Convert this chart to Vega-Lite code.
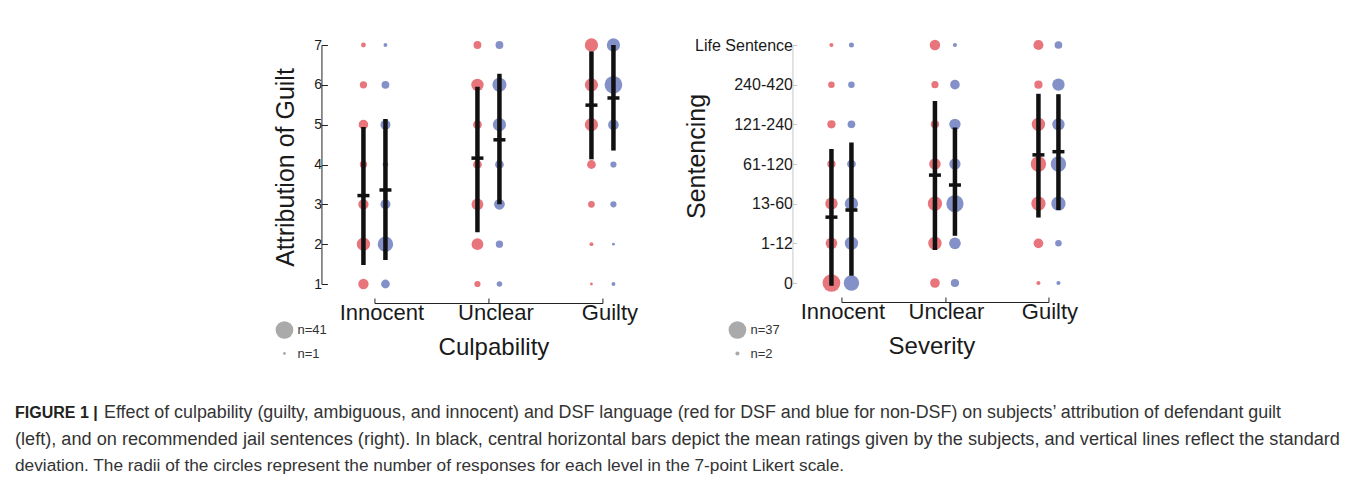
{
  "$schema": "https://vega.github.io/schema/vega-lite/v6.json",
  "background": "white",
  "padding": {"left": 8, "top": 37, "right": 0, "bottom": 0},
  "config": {
    "font": "Liberation Sans",
    "view": {"stroke": null},
    "axis": {"grid": false, "labelColor": "#1a1a1a", "titleColor": "#1a1a1a", "titleFontWeight": "normal"}
  },
  "datasets": {
    "guiltDots": [
      {"culpability": "Innocent", "language": "DSF", "rating": 7, "n": 3},
      {"culpability": "Innocent", "language": "DSF", "rating": 6, "n": 7},
      {"culpability": "Innocent", "language": "DSF", "rating": 5, "n": 12},
      {"culpability": "Innocent", "language": "DSF", "rating": 4, "n": 7},
      {"culpability": "Innocent", "language": "DSF", "rating": 3, "n": 14},
      {"culpability": "Innocent", "language": "DSF", "rating": 2, "n": 23},
      {"culpability": "Innocent", "language": "DSF", "rating": 1, "n": 14},
      {"culpability": "Innocent", "language": "non-DSF", "rating": 7, "n": 2},
      {"culpability": "Innocent", "language": "non-DSF", "rating": 6, "n": 8},
      {"culpability": "Innocent", "language": "non-DSF", "rating": 5, "n": 13},
      {"culpability": "Innocent", "language": "non-DSF", "rating": 4, "n": 4},
      {"culpability": "Innocent", "language": "non-DSF", "rating": 3, "n": 13},
      {"culpability": "Innocent", "language": "non-DSF", "rating": 2, "n": 31},
      {"culpability": "Innocent", "language": "non-DSF", "rating": 1, "n": 10},
      {"culpability": "Unclear", "language": "DSF", "rating": 7, "n": 8},
      {"culpability": "Unclear", "language": "DSF", "rating": 6, "n": 20},
      {"culpability": "Unclear", "language": "DSF", "rating": 5, "n": 10},
      {"culpability": "Unclear", "language": "DSF", "rating": 4, "n": 10},
      {"culpability": "Unclear", "language": "DSF", "rating": 3, "n": 18},
      {"culpability": "Unclear", "language": "DSF", "rating": 2, "n": 18},
      {"culpability": "Unclear", "language": "DSF", "rating": 1, "n": 5},
      {"culpability": "Unclear", "language": "non-DSF", "rating": 7, "n": 8},
      {"culpability": "Unclear", "language": "non-DSF", "rating": 6, "n": 26},
      {"culpability": "Unclear", "language": "non-DSF", "rating": 5, "n": 23},
      {"culpability": "Unclear", "language": "non-DSF", "rating": 4, "n": 10},
      {"culpability": "Unclear", "language": "non-DSF", "rating": 3, "n": 15},
      {"culpability": "Unclear", "language": "non-DSF", "rating": 2, "n": 7},
      {"culpability": "Unclear", "language": "non-DSF", "rating": 1, "n": 4},
      {"culpability": "Guilty", "language": "DSF", "rating": 7, "n": 23},
      {"culpability": "Guilty", "language": "DSF", "rating": 6, "n": 23},
      {"culpability": "Guilty", "language": "DSF", "rating": 5, "n": 23},
      {"culpability": "Guilty", "language": "DSF", "rating": 4, "n": 10},
      {"culpability": "Guilty", "language": "DSF", "rating": 3, "n": 6},
      {"culpability": "Guilty", "language": "DSF", "rating": 2, "n": 2},
      {"culpability": "Guilty", "language": "DSF", "rating": 1, "n": 1},
      {"culpability": "Guilty", "language": "non-DSF", "rating": 7, "n": 23},
      {"culpability": "Guilty", "language": "non-DSF", "rating": 6, "n": 41},
      {"culpability": "Guilty", "language": "non-DSF", "rating": 5, "n": 15},
      {"culpability": "Guilty", "language": "non-DSF", "rating": 4, "n": 5},
      {"culpability": "Guilty", "language": "non-DSF", "rating": 3, "n": 5},
      {"culpability": "Guilty", "language": "non-DSF", "rating": 2, "n": 1},
      {"culpability": "Guilty", "language": "non-DSF", "rating": 1, "n": 2}
    ],
    "guiltStats": [
      {"culpability": "Innocent", "language": "DSF", "mean": 3.22, "lo": 1.48, "hi": 4.94},
      {"culpability": "Innocent", "language": "non-DSF", "mean": 3.36, "lo": 1.6, "hi": 5.14},
      {"culpability": "Unclear", "language": "DSF", "mean": 4.16, "lo": 2.3, "hi": 5.95},
      {"culpability": "Unclear", "language": "non-DSF", "mean": 4.62, "lo": 3.0, "hi": 6.28},
      {"culpability": "Guilty", "language": "DSF", "mean": 5.49, "lo": 4.13, "hi": 6.84},
      {"culpability": "Guilty", "language": "non-DSF", "mean": 5.67, "lo": 4.35, "hi": 7.0}
    ],
    "sentDots": [
      {"severity": "Innocent", "language": "DSF", "sentence": "Life Sentence", "n": 2},
      {"severity": "Innocent", "language": "DSF", "sentence": "240-420", "n": 5},
      {"severity": "Innocent", "language": "DSF", "sentence": "121-240", "n": 8},
      {"severity": "Innocent", "language": "DSF", "sentence": "61-120", "n": 8},
      {"severity": "Innocent", "language": "DSF", "sentence": "13-60", "n": 18},
      {"severity": "Innocent", "language": "DSF", "sentence": "1-12", "n": 16},
      {"severity": "Innocent", "language": "DSF", "sentence": "0", "n": 37},
      {"severity": "Innocent", "language": "non-DSF", "sentence": "Life Sentence", "n": 3},
      {"severity": "Innocent", "language": "non-DSF", "sentence": "240-420", "n": 5},
      {"severity": "Innocent", "language": "non-DSF", "sentence": "121-240", "n": 7},
      {"severity": "Innocent", "language": "non-DSF", "sentence": "61-120", "n": 9},
      {"severity": "Innocent", "language": "non-DSF", "sentence": "13-60", "n": 21},
      {"severity": "Innocent", "language": "non-DSF", "sentence": "1-12", "n": 21},
      {"severity": "Innocent", "language": "non-DSF", "sentence": "0", "n": 28},
      {"severity": "Unclear", "language": "DSF", "sentence": "Life Sentence", "n": 13},
      {"severity": "Unclear", "language": "DSF", "sentence": "240-420", "n": 6},
      {"severity": "Unclear", "language": "DSF", "sentence": "121-240", "n": 8},
      {"severity": "Unclear", "language": "DSF", "sentence": "61-120", "n": 16},
      {"severity": "Unclear", "language": "DSF", "sentence": "13-60", "n": 24},
      {"severity": "Unclear", "language": "DSF", "sentence": "1-12", "n": 21},
      {"severity": "Unclear", "language": "DSF", "sentence": "0", "n": 11},
      {"severity": "Unclear", "language": "non-DSF", "sentence": "Life Sentence", "n": 2},
      {"severity": "Unclear", "language": "non-DSF", "sentence": "240-420", "n": 11},
      {"severity": "Unclear", "language": "non-DSF", "sentence": "121-240", "n": 15},
      {"severity": "Unclear", "language": "non-DSF", "sentence": "61-120", "n": 15},
      {"severity": "Unclear", "language": "non-DSF", "sentence": "13-60", "n": 35},
      {"severity": "Unclear", "language": "non-DSF", "sentence": "1-12", "n": 16},
      {"severity": "Unclear", "language": "non-DSF", "sentence": "0", "n": 8},
      {"severity": "Guilty", "language": "DSF", "sentence": "Life Sentence", "n": 12},
      {"severity": "Guilty", "language": "DSF", "sentence": "240-420", "n": 8},
      {"severity": "Guilty", "language": "DSF", "sentence": "121-240", "n": 21},
      {"severity": "Guilty", "language": "DSF", "sentence": "61-120", "n": 28},
      {"severity": "Guilty", "language": "DSF", "sentence": "13-60", "n": 24},
      {"severity": "Guilty", "language": "DSF", "sentence": "1-12", "n": 11},
      {"severity": "Guilty", "language": "DSF", "sentence": "0", "n": 2},
      {"severity": "Guilty", "language": "non-DSF", "sentence": "Life Sentence", "n": 7},
      {"severity": "Guilty", "language": "non-DSF", "sentence": "240-420", "n": 18},
      {"severity": "Guilty", "language": "non-DSF", "sentence": "121-240", "n": 18},
      {"severity": "Guilty", "language": "non-DSF", "sentence": "61-120", "n": 28},
      {"severity": "Guilty", "language": "non-DSF", "sentence": "13-60", "n": 24},
      {"severity": "Guilty", "language": "non-DSF", "sentence": "1-12", "n": 5},
      {"severity": "Guilty", "language": "non-DSF", "sentence": "0", "n": 2}
    ],
    "sentStats": [
      {"severity": "Innocent", "language": "DSF", "mean": 2.66, "lo": 0.93, "hi": 4.38},
      {"severity": "Innocent", "language": "non-DSF", "mean": 2.84, "lo": 1.18, "hi": 4.54},
      {"severity": "Unclear", "language": "DSF", "mean": 3.72, "lo": 1.83, "hi": 5.59},
      {"severity": "Unclear", "language": "non-DSF", "mean": 3.47, "lo": 2.19, "hi": 4.92},
      {"severity": "Guilty", "language": "DSF", "mean": 4.23, "lo": 2.65, "hi": 5.77},
      {"severity": "Guilty", "language": "non-DSF", "mean": 4.31, "lo": 2.84, "hi": 5.76}
    ],
    "caption": [
      {"line": 1, "part": "label", "text": "FIGURE 1 |"},
      {"line": 1, "part": "first", "text": "Effect of culpability (guilty, ambiguous, and innocent) and DSF language (red for DSF and blue for non-DSF) on subjects’ attribution of defendant guilt"},
      {"line": 2, "part": "second", "text": "(left), and on recommended jail sentences (right). In black, central horizontal bars depict the mean ratings given by the subjects, and vertical lines reflect the standard"},
      {"line": 3, "part": "third", "text": "deviation. The radii of the circles represent the number of responses for each level in the 7-point Likert scale."}
    ]
  },
  "vconcat": [
    {
      "hconcat": [
        {
          "width": 228,
          "height": 239,
          "encoding": {
            "x": {"field": "culpability", "type": "nominal",
              "scale": {"type": "point", "padding": 0, "domain": ["Innocent", "Unclear", "Guilty"]},
              "axis": {"offset": 19, "tickSize": -5, "domainColor": "#222", "tickColor": "#222", "labelFontSize": 22, "labelPadding": 4, "labelOffset": 7, "labelAngle": 0, "title": "Culpability", "titleFontSize": 24, "titlePadding": 12, "titleX": 119}}
          },
          "layer": [
            {
              "data": {"name": "guiltDots"},
              "transform": [{"filter": "datum.language == 'DSF'"}],
              "mark": {"type": "circle", "opacity": 1, "xOffset": -11},
              "encoding": {
                "y": {"field": "rating", "type": "quantitative",
                  "scale": {"domain": [1, 7], "nice": false, "zero": false},
                  "axis": {"values": [1, 2, 3, 4, 5, 6, 7], "tickCount": 7, "labelOverlap": false, "offset": 53, "tickSize": -6, "domainColor": "#222", "tickColor": "#222", "labelFontSize": 14, "labelPadding": 6, "title": "Attribution of Guilt", "titleFontSize": 25, "titlePadding": 15, "titleY": 122}},
                "size": {"field": "n", "type": "quantitative", "scale": {"domain": [0, 41], "range": [0, 314]},
                  "legend": {"values": [41, 1], "orient": "none", "legendX": -99, "legendY": 276, "title": null, "symbolFillColor": "#aaaaaa", "symbolStrokeWidth": 0, "symbolOpacity": 1, "labelExpr": "'n=' + datum.label", "labelFontSize": 13, "labelColor": "#333", "rowPadding": 8, "labelOffset": 4,
                    "encode": {"symbols": {"update": {"fill": {"value": "#aaaaaa"}, "stroke": {"value": "transparent"}, "opacity": {"value": 1}}}}}},
                "color": {"field": "language", "type": "nominal", "scale": {"domain": ["DSF", "non-DSF"], "range": ["#E8757B", "#8391C8"]}, "legend": null}
              }
            },
            {
              "data": {"name": "guiltDots"},
              "transform": [{"filter": "datum.language == 'non-DSF'"}],
              "mark": {"type": "circle", "opacity": 1, "xOffset": 11},
              "encoding": {
                "y": {"field": "rating", "type": "quantitative"},
                "size": {"field": "n", "type": "quantitative"},
                "color": {"field": "language", "type": "nominal"}
              }
            },
            {
              "data": {"name": "guiltStats"},
              "transform": [{"filter": "datum.language == 'DSF'"}],
              "mark": {"type": "rule", "strokeWidth": 4.5, "color": "#111", "xOffset": -11},
              "encoding": {"y": {"field": "lo", "type": "quantitative"}, "y2": {"field": "hi"}}
            },
            {
              "data": {"name": "guiltStats"},
              "transform": [{"filter": "datum.language == 'non-DSF'"}],
              "mark": {"type": "rule", "strokeWidth": 4.5, "color": "#111", "xOffset": 11},
              "encoding": {"y": {"field": "lo", "type": "quantitative"}, "y2": {"field": "hi"}}
            },
            {
              "data": {"name": "guiltStats"},
              "transform": [{"filter": "datum.language == 'DSF'"}],
              "mark": {"type": "tick", "orient": "horizontal", "size": 12, "thickness": 3.5, "color": "#111", "opacity": 1, "xOffset": -11},
              "encoding": {"y": {"field": "mean", "type": "quantitative"}}
            },
            {
              "data": {"name": "guiltStats"},
              "transform": [{"filter": "datum.language == 'non-DSF'"}],
              "mark": {"type": "tick", "orient": "horizontal", "size": 12, "thickness": 3.5, "color": "#111", "opacity": 1, "xOffset": 11},
              "encoding": {"y": {"field": "mean", "type": "quantitative"}}
            }
          ]
        },
        {
          "width": 207,
          "height": 238,
          "resolve": {"scale": {"y": "independent"}, "axis": {"y": "independent"}},
          "encoding": {
            "x": {"field": "severity", "type": "nominal",
              "scale": {"type": "point", "padding": 0, "domain": ["Innocent", "Unclear", "Guilty"]},
              "axis": {"offset": 19, "tickSize": -5, "domainColor": "#222", "tickColor": "#222", "labelFontSize": 22, "labelPadding": 4, "labelOffset": 1, "labelAngle": 0, "title": "Severity", "titleFontSize": 24, "titlePadding": 12, "titleX": 90}}
          },
          "layer": [
            {
              "layer": [
                {
                  "data": {"name": "sentDots"},
                  "transform": [{"filter": "datum.language == 'DSF'"}],
                  "mark": {"type": "circle", "opacity": 1, "xOffset": -10},
                  "encoding": {
                    "y": {"field": "sentence", "type": "nominal",
                      "scale": {"type": "point", "padding": 0, "domain": ["Life Sentence", "240-420", "121-240", "61-120", "13-60", "1-12", "0"]},
                      "axis": {"offset": 49, "tickSize": -4, "domainColor": "#c8c8c8", "tickColor": "#c8c8c8", "labelFontSize": 16, "labelPadding": 4, "title": "Sentencing", "titleFontSize": 25, "titlePadding": -15, "titleY": 111}},
                    "size": {"field": "n", "type": "quantitative", "scale": {"domain": [0, 37], "range": [0, 314]},
                      "legend": {"values": [37, 2], "orient": "none", "legendX": -113, "legendY": 276, "title": null, "symbolFillColor": "#aaaaaa", "symbolStrokeWidth": 0, "symbolOpacity": 1, "labelExpr": "'n=' + datum.label", "labelFontSize": 13, "labelColor": "#333", "rowPadding": 8, "labelOffset": 4,
                        "encode": {"symbols": {"update": {"fill": {"value": "#aaaaaa"}, "stroke": {"value": "transparent"}, "opacity": {"value": 1}}}}}},
                    "color": {"field": "language", "type": "nominal", "scale": {"domain": ["DSF", "non-DSF"], "range": ["#E8757B", "#8391C8"]}, "legend": null}
                  }
                },
                {
                  "data": {"name": "sentDots"},
                  "transform": [{"filter": "datum.language == 'non-DSF'"}],
                  "mark": {"type": "circle", "opacity": 1, "xOffset": 10},
                  "encoding": {
                    "y": {"field": "sentence", "type": "nominal"},
                    "size": {"field": "n", "type": "quantitative"},
                    "color": {"field": "language", "type": "nominal"}
                  }
                }
              ]
            },
            {
              "layer": [
                {
                  "data": {"name": "sentStats"},
                  "transform": [{"filter": "datum.language == 'DSF'"}],
                  "mark": {"type": "rule", "strokeWidth": 4.5, "color": "#111", "xOffset": -10},
                  "encoding": {"y": {"field": "lo", "type": "quantitative", "scale": {"domain": [1, 7], "nice": false, "zero": false}, "axis": null}, "y2": {"field": "hi"}}
                },
                {
                  "data": {"name": "sentStats"},
                  "transform": [{"filter": "datum.language == 'non-DSF'"}],
                  "mark": {"type": "rule", "strokeWidth": 4.5, "color": "#111", "xOffset": 10},
                  "encoding": {"y": {"field": "lo", "type": "quantitative"}, "y2": {"field": "hi"}}
                },
                {
                  "data": {"name": "sentStats"},
                  "transform": [{"filter": "datum.language == 'DSF'"}],
                  "mark": {"type": "tick", "orient": "horizontal", "size": 12, "thickness": 3.5, "color": "#111", "opacity": 1, "xOffset": -10},
                  "encoding": {"y": {"field": "mean", "type": "quantitative"}}
                },
                {
                  "data": {"name": "sentStats"},
                  "transform": [{"filter": "datum.language == 'non-DSF'"}],
                  "mark": {"type": "tick", "orient": "horizontal", "size": 12, "thickness": 3.5, "color": "#111", "opacity": 1, "xOffset": 10},
                  "encoding": {"y": {"field": "mean", "type": "quantitative"}}
                }
              ]
            }
          ]
        }
      ],
      "spacing": 239,
      "bounds": "flush",
      "resolve": {"scale": {"size": "independent", "color": "shared"}, "legend": {"size": "independent"}}
    },
    {
      "width": 1436,
      "height": 53,
      "data": {"name": "caption"},
      "layer": [
        {
          "transform": [{"filter": "datum.part == 'label'"}],
          "mark": {"type": "text", "align": "left", "baseline": "middle", "fontWeight": "bold", "fontSize": 16, "color": "#222"},
          "encoding": {
            "x": {"value": 7},
            "y": {"field": "line", "type": "ordinal", "scale": {"type": "point", "padding": 0, "domain": [1, 2, 3]}, "axis": null},
            "text": {"field": "text"}
          }
        },
        {
          "transform": [{"filter": "datum.part == 'first'"}],
          "mark": {"type": "text", "align": "left", "baseline": "middle", "fontSize": 17.85, "color": "#333", "dx": 89},
          "encoding": {
            "x": {"value": 7},
            "y": {"field": "line", "type": "ordinal"},
            "text": {"field": "text"}
          }
        },
        {
          "transform": [{"filter": "datum.part == 'second'"}],
          "mark": {"type": "text", "align": "left", "baseline": "middle", "fontSize": 18.15, "color": "#333"},
          "encoding": {
            "x": {"value": 7},
            "y": {"field": "line", "type": "ordinal"},
            "text": {"field": "text"}
          }
        },
        {
          "transform": [{"filter": "datum.part == 'third'"}],
          "mark": {"type": "text", "align": "left", "baseline": "middle", "fontSize": 17.25, "color": "#333"},
          "encoding": {
            "x": {"value": 7},
            "y": {"field": "line", "type": "ordinal"},
            "text": {"field": "text"}
          }
        }
      ]
    }
  ],
  "center": true,
  "spacing": 43
}
